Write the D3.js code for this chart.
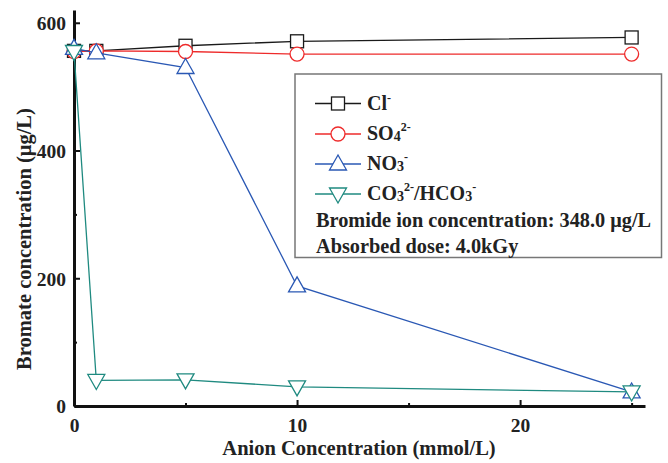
<!DOCTYPE html>
<html><head><meta charset="utf-8">
<script src="https://cdn.jsdelivr.net/npm/d3@7"></script>
<style>
body{margin:0;background:#fff;}
text{font-family:"Liberation Serif","Times New Roman",serif;font-weight:bold;fill:#222;}
</style></head><body>
<svg id="c" width="668" height="463"></svg>
<script>
const xVals = [0, 1, 5, 10, 25];
const clVals = [556, 556, 564, 571, 577];
const so4Vals = [555, 556, 555, 551, 551];
const no3Vals = [560, 553, 530, 188, 22];
const co3Vals = [555, 40, 41, 30, 22];
const xMajor = [0, 10, 20];
const xMinor = [5, 15, 25];
const yMajor = [0, 200, 400, 600];
const yMinor = [100, 300, 500];
const seriesNames = ["Cl", "SO4", "NO3", "CO3"];
const seriesColors = ["#1a1a1a", "#ee2b2b", "#2a58b4", "#1f8a80"];
const seriesSymbols = ["square", "circle", "triUp", "triDown"];
const infoLines = ["Bromide ion concentration: 348.0 \u03bcg/L", "Absorbed dose: 4.0kGy"];

const svg = d3.select("#c");
const x = d3.scaleLinear().domain([0, 25.6]).range([74, 645]);
const y = d3.scaleLinear().domain([0, 620]).range([406, 10]);

function sym(g, type, color, cx, cy) {
  let p;
  if (type === "square") p = g.append("rect").attr("x", cx - 6.5).attr("y", cy - 6.5).attr("width", 13).attr("height", 13);
  else if (type === "circle") p = g.append("circle").attr("cx", cx).attr("cy", cy).attr("r", 7);
  else if (type === "triUp") p = g.append("path").attr("d", `M${cx},${cy - 9}L${cx + 8.5},${cy + 6}L${cx - 8.5},${cy + 6}Z`);
  else p = g.append("path").attr("d", `M${cx},${cy + 9}L${cx + 8.5},${cy - 6}L${cx - 8.5},${cy - 6}Z`);
  p.attr("fill", "#fff").attr("stroke", color).attr("stroke-width", 1.3);
}

// axes
const gx = svg.append("g").attr("transform", `translate(0,${y(0)})`);
gx.call(d3.axisBottom(x).tickValues(xMajor).tickSizeInner(-6).tickSizeOuter(0).tickFormat(d3.format("d")));
const gxm = svg.append("g").attr("transform", `translate(0,${y(0)})`);
gxm.call(d3.axisBottom(x).tickValues(xMinor).tickSizeInner(-3).tickSizeOuter(0).tickFormat(""));
gxm.select(".domain").remove();
const gy = svg.append("g").attr("transform", `translate(${x(0)},0)`);
gy.call(d3.axisLeft(y).tickValues(yMajor).tickSizeInner(-6).tickSizeOuter(0).tickFormat(d3.format("d")));
const gym = svg.append("g").attr("transform", `translate(${x(0)},0)`);
gym.call(d3.axisLeft(y).tickValues(yMinor).tickSizeInner(-3).tickSizeOuter(0).tickFormat(""));
gym.select(".domain").remove();
[gx, gy].forEach(g => g.select(".domain").attr("stroke", "#111").attr("stroke-width", 3));
svg.selectAll(".tick line").attr("stroke", "#111").attr("stroke-width", 2);
gx.selectAll(".tick text").attr("y", 26).attr("dy", 0).attr("font-size", 19.5).attr("font-family", null).attr("fill", "#222");
gy.selectAll(".tick text").attr("x", -8).attr("dy", "0.35em").attr("font-size", 19.5).attr("font-family", null).attr("fill", "#222");
svg.selectAll(".tick text").style("font-family", '"Liberation Serif","Times New Roman",serif').style("font-weight", "bold");

// titles
svg.append("text").attr("x", 359).attr("y", 455).attr("text-anchor", "middle").attr("font-size", 20.5)
  .text("Anion Concentration (mmol/L)");
svg.append("text").attr("transform", "translate(31,239) rotate(-90)").attr("text-anchor", "middle").attr("font-size", 20.5)
  .text("Bromate concentration (\u03bcg/L)");

// series
const allVals = [clVals, so4Vals, no3Vals, co3Vals];
const line = d3.line().x(d => x(d[0])).y(d => y(d[1]));
allVals.forEach((vals, i) => {
  const pts = xVals.map((xv, j) => [xv, vals[j]]);
  const g = svg.append("g");
  g.append("path").attr("d", line(pts)).attr("fill", "none").attr("stroke", seriesColors[i]).attr("stroke-width", 1.3);
  pts.forEach(p => sym(g, seriesSymbols[i], seriesColors[i], x(p[0]), y(p[1])));
});

// legend
const lg = svg.append("g");
lg.append("rect").attr("x", 295).attr("y", 74).attr("width", 366.5).attr("height", 183.5)
  .attr("fill", "#fff").attr("stroke", "#777").attr("stroke-width", 1.5);
const rowY = [103.5, 134, 164, 194];
seriesNames.forEach((n, i) => {
  lg.append("line").attr("x1", 315).attr("x2", 361).attr("y1", rowY[i]).attr("y2", rowY[i])
    .attr("stroke", seriesColors[i]).attr("stroke-width", 1.3);
  sym(lg, seriesSymbols[i], seriesColors[i], 338, rowY[i]);
  const t = lg.append("text").attr("x", 367).attr("y", rowY[i] + 6).attr("font-size", 20);
  if (n === "Cl") { t.append("tspan").text("Cl"); t.append("tspan").attr("dy", -8).attr("font-size", 12).text("-"); }
  else if (n === "SO4") { t.append("tspan").text("SO"); t.append("tspan").attr("dy", 1).attr("font-size", 14).text("4");
    t.append("tspan").attr("dy", -10).attr("font-size", 12).text("2-"); }
  else if (n === "NO3") { t.append("tspan").text("NO"); t.append("tspan").attr("dy", 1).attr("font-size", 14).text("3");
    t.append("tspan").attr("dy", -10).attr("font-size", 12).text("-"); }
  else { t.append("tspan").text("CO"); t.append("tspan").attr("dy", 1).attr("font-size", 14).text("3");
    t.append("tspan").attr("dy", -10).attr("font-size", 12).text("2-");
    t.append("tspan").attr("dy", 9).attr("font-size", 20).text("/HCO");
    t.append("tspan").attr("dy", 1).attr("font-size", 14).text("3");
    t.append("tspan").attr("dy", -10).attr("font-size", 12).text("-"); }
});
const infoY = [227, 253];
infoLines.forEach((s, i) => {
  lg.append("text").attr("x", 316).attr("y", infoY[i]).attr("font-size", 20.3).text(s);
});
</script></body></html>
